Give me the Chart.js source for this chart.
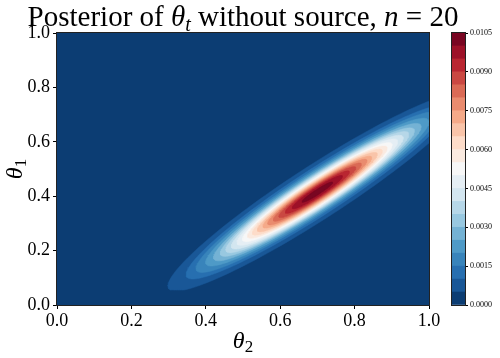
<!DOCTYPE html>
<html>
<head>
<meta charset="utf-8">
<script src="https://cdn.jsdelivr.net/npm/chart.js@4.4.1/dist/chart.umd.min.js"></script>
<style>
  html, body { margin: 0; padding: 0; background: #fff; }
  #wrap { position: relative; width: 500px; height: 358px; }
  canvas { position: absolute; left: 0; top: 0; }
</style>
</head>
<body>
<div id="wrap">
  <canvas id="main" width="500" height="358"></canvas>
  <canvas id="cbar" width="500" height="358"></canvas>
</div>
<script>
// contour levels of the posterior density (same as the colorbar)
const LEVELS = [0.0000, 0.0005, 0.0010, 0.0015, 0.0020, 0.0025, 0.0030, 0.0035, 0.0040, 0.0045, 0.0050,
                0.0055, 0.0060, 0.0065, 0.0070, 0.0075, 0.0080, 0.0085, 0.0090, 0.0095, 0.0100, 0.0105];
const CBAR_TICKS = [0.0000, 0.0015, 0.0030, 0.0045, 0.0060, 0.0075, 0.0090, 0.0105];
const AXIS_TICKS = [0.0, 0.2, 0.4, 0.6, 0.8, 1.0];

// ridge of the posterior (theta_2, theta_1)
const MODE = [0.70, 0.415];
const RIDGE_ANGLE = 42; // degrees, in data units
// half length along / across the ridge of the region above each level (0.0005 ... 0.0100)
const HALF_ALONG  = [0.535, 0.47, 0.435, 0.40, 0.372, 0.348, 0.328, 0.308, 0.288, 0.268,
                     0.25, 0.233, 0.215, 0.195, 0.178, 0.158, 0.138, 0.115, 0.09, 0.055];
const HALF_ACROSS = [0.087, 0.075, 0.068, 0.063, 0.058, 0.054, 0.051, 0.048, 0.045, 0.042,
                     0.039, 0.036, 0.033, 0.030, 0.027, 0.024, 0.021, 0.018, 0.014, 0.008];
const GRID_Y_MIN = 0.055; // grid starts here, tail is cut flat

// RdBu_r anchors
const RDBU_R = ["#053061", "#2166ac", "#4393c3", "#92c5de", "#d1e5f0", "#f7f7f7",
                "#fddbc7", "#f4a582", "#d6604d", "#b2182b", "#67001f"];

function hexRgb(h) {
  return [1, 3, 5].map(i => parseInt(h.slice(i, i + 2), 16));
}
function cmap(t) {
  const n = RDBU_R.length - 1;
  const p = Math.min(Math.max(t, 0), 1) * n;
  const i = Math.min(Math.floor(p), n - 1);
  const f = p - i;
  const a = hexRgb(RDBU_R[i]), b = hexRgb(RDBU_R[i + 1]);
  const c = a.map((v, k) => Math.round(v + (b[k] - v) * f));
  return `rgb(${c[0]}, ${c[1]}, ${c[2]})`;
}
const nBands = LEVELS.length - 1;
const bandColors = [];
for (let i = 0; i < nBands; i++) bandColors.push(cmap((i + 0.5) / nBands));

const SERIF = "'Liberation Serif', 'DejaVu Serif', serif";

// outline of each filled level in data coordinates
function levelOutline(k) {
  const a = HALF_ALONG[k], b = HALF_ACROSS[k];
  const th = RIDGE_ANGLE * Math.PI / 180;
  const pts = [];
  for (let j = 0; j <= 180; j++) {
    const phi = (2 * Math.PI * j) / 180;
    const u = a * Math.cos(phi), v = b * Math.sin(phi);
    const x = MODE[0] + u * Math.cos(th) - v * Math.sin(th);
    const y = MODE[1] + u * Math.sin(th) + v * Math.cos(th);
    pts.push({ x, y: Math.max(y, GRID_Y_MIN) });
  }
  return pts;
}

const datasets = HALF_ALONG.map((_, k) => ({
  label: `>= ${LEVELS[k + 1].toFixed(4)}`,
  data: levelOutline(k),
  showLine: true,
  fill: "shape",
  backgroundColor: bandColors[k + 1],
  borderColor: bandColors[k + 1],
  borderWidth: 0.5,
  pointRadius: 0,
  order: HALF_ALONG.length - k,
}));

// lowest band + frame
const areaPlugin = {
  id: "area",
  beforeDatasetsDraw(chart) {
    const { ctx, chartArea: a } = chart;
    ctx.save();
    ctx.fillStyle = bandColors[0];
    ctx.fillRect(a.left, a.top, a.width, a.height);
    ctx.restore();
  },
  afterDraw(chart) {
    const { ctx, chartArea: a } = chart;
    ctx.save();
    ctx.strokeStyle = "#222";
    ctx.lineWidth = 1;
    ctx.strokeRect(Math.round(a.left) - 0.5, Math.round(a.top) - 0.5, Math.round(a.width) + 1, Math.round(a.height) + 1);
    ctx.restore();
  },
};

// mixed text: title and axis labels with sub-scripts
function drawRich(ctx, parts, x, y, rot) {
  ctx.save();
  ctx.translate(x, y);
  if (rot) ctx.rotate(rot);
  let w = 0;
  for (const p of parts) { ctx.font = p.font; w += ctx.measureText(p.text).width; }
  let cx = -w / 2;
  ctx.fillStyle = "#000";
  ctx.textBaseline = "alphabetic";
  ctx.textAlign = "left";
  for (const p of parts) {
    ctx.font = p.font;
    ctx.fillText(p.text, cx, p.dy || 0);
    cx += ctx.measureText(p.text).width;
  }
  ctx.restore();
}

const textPlugin = {
  id: "texts",
  afterDraw(chart) {
    const { ctx, chartArea: a } = chart;
    const mid = (a.left + a.right) / 2;
    drawRich(ctx, [
      { text: "Posterior of ", font: `29px ${SERIF}` },
      { text: "θ", font: `italic 29px ${SERIF}` },
      { text: "t", font: `italic 20px ${SERIF}`, dy: 5 },
      { text: " without source, ", font: `29px ${SERIF}` },
      { text: "n", font: `italic 29px ${SERIF}` },
      { text: " = 20", font: `29px ${SERIF}` },
    ], mid, 26);
    drawRich(ctx, [
      { text: "θ", font: `italic 24px ${SERIF}` },
      { text: "2", font: `17px ${SERIF}`, dy: 4 },
    ], mid, 348);
    drawRich(ctx, [
      { text: "θ", font: `italic 24px ${SERIF}` },
      { text: "1", font: `17px ${SERIF}`, dy: 4 },
    ], 22, (a.top + a.bottom) / 2, -Math.PI / 2);
  },
};

const tickFont = { family: SERIF, size: 18 };

new Chart(document.getElementById("main"), {
  type: "scatter",
  data: { datasets },
  options: {
    responsive: false,
    animation: false,
    devicePixelRatio: 1,
    layout: { padding: { top: 33, right: 71, bottom: 0, left: 0 } },
    plugins: { legend: { display: false }, tooltip: { enabled: false } },
    scales: {
      x: {
        type: "linear", min: 0, max: 1,
        afterBuildTicks: s => { s.ticks = AXIS_TICKS.map(v => ({ value: v })); },
        afterFit: s => { s.height = 53; },
        grid: { drawOnChartArea: false, drawTicks: true, tickLength: 4, color: "#000" },
        border: { display: false },
        ticks: { font: tickFont, color: "#000", padding: 1, maxRotation: 0, autoSkip: false,
                 callback: v => Number(v).toFixed(1) },
      },
      y: {
        type: "linear", min: 0, max: 1,
        afterBuildTicks: s => { s.ticks = AXIS_TICKS.map(v => ({ value: v })); },
        afterFit: s => { s.width = 57; },
        grid: { drawOnChartArea: false, drawTicks: true, tickLength: 4, color: "#000" },
        border: { display: false },
        ticks: { font: tickFont, color: "#000", padding: 3, autoSkip: false,
                 callback: v => Number(v).toFixed(1) },
      },
    },
  },
  plugins: [areaPlugin, textPlugin],
});

// colorbar
const cbarFrame = {
  id: "cbarFrame",
  afterDraw(chart) {
    const { ctx, chartArea: a } = chart;
    ctx.save();
    ctx.strokeStyle = "#222";
    ctx.lineWidth = 1;
    ctx.strokeRect(Math.round(a.left) - 0.5, Math.round(a.top) - 0.5, Math.round(a.width) + 1, Math.round(a.height) + 1);
    ctx.restore();
  },
};

new Chart(document.getElementById("cbar"), {
  type: "bar",
  data: {
    labels: [""],
    datasets: bandColors.map((c, i) => ({
      label: `${LEVELS[i].toFixed(4)}-${LEVELS[i + 1].toFixed(4)}`,
      data: [LEVELS[i + 1] - LEVELS[i]],
      backgroundColor: c,
      borderWidth: 0,
      barPercentage: 1,
      categoryPercentage: 1,
    })),
  },
  options: {
    responsive: false,
    animation: false,
    devicePixelRatio: 1,
    layout: { padding: { top: 33, right: 0, bottom: 53, left: 452 } },
    plugins: { legend: { display: false }, tooltip: { enabled: false } },
    scales: {
      x: { stacked: true, display: false },
      y: {
        stacked: true, position: "right", min: 0, max: LEVELS[LEVELS.length - 1],
        afterBuildTicks: s => { s.ticks = CBAR_TICKS.map(v => ({ value: v })); },
        afterFit: s => { s.width = 35; },
        grid: { drawOnChartArea: false, drawTicks: true, tickLength: 3, color: "#000" },
        border: { display: false },
        ticks: { font: { family: SERIF, size: 8 }, color: "#000", padding: 2, autoSkip: false,
                 callback: v => Number(v).toFixed(4) },
      },
    },
  },
  plugins: [cbarFrame],
});
</script>
</body>
</html>
